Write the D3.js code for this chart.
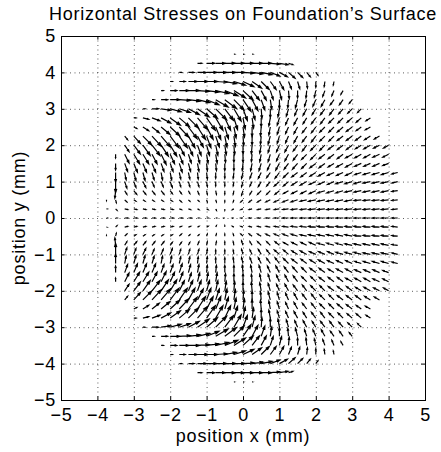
<!DOCTYPE html>
<html>
<head>
<meta charset="utf-8">
<script src="https://cdn.jsdelivr.net/npm/d3@7"></script>
<style>
  body { margin: 0; background: #fff; }
  text { font-family: "Liberation Sans", Arial, sans-serif; fill: #000; letter-spacing: 0.75px; }
</style>
</head>
<body>
<svg id="chart" width="441" height="452"></svg>
<script>
// Labels and ticks
const chartTitle = "Horizontal Stresses on Foundation’s Surface";
const xLabel = "position x (mm)";
const yLabel = "position y (mm)";
const xTicks = [-5, -4, -3, -2, -1, 0, 1, 2, 3, 4, 5];
const yTicks = [-5, -4, -3, -2, -1, 0, 1, 2, 3, 4, 5];

// Sample grid: columns start at x = -3.75 mm, 0.25 mm apart.
const gridX0 = -3.75;
const gridStep = 0.25;
// One code step of a stress component, in plotted mm.
const codeUnit = 0.02;

// One entry per grid row: its y, the first occupied column,
// and the u / v components ('0' = 0, 'A'..'Z' = +1..+26, 'a'..'z' = -1..-26).
const rowY = [4.5, 4.25, 4, 3.75, 3.5, 3.25, 3, 2.75, 2.5, 2.25, 2, 1.75, 1.5, 1.25, 1, 0.75, 0.5, 0.25, 0,
              -0.25, -0.5, -0.75, -1, -1.25, -1.5, -1.75, -2, -2.25, -2.5, -2.75, -3, -3.25, -3.5, -3.75, -4, -4.25, -4.5];
const rowStart = [14, 10, 8, 7, 6, 5, 4, 3, 3, 2, 2, 1, 1, 1, 1, 1, 0, 0, 0,
                  0, 0, 1, 1, 1, 1, 1, 2, 2, 3, 3, 4, 5, 6, 7, 8, 10, 14];
const rowU = [
  "AAA",
  "FKMNNNNNMLF",
  "CHLNOOOOOOMKIGEC",
  "CHLNOPPPOMKHFDCA0aa",
  "CIMOPQRRPNJGDCA0abccc",
  "CIMOPQQQPNKHEB0accdeeed",
  "CIMOOOPOOLJFDA0bcdeeffffe",
  "CHKMNNNNLJHECB0bcdeeffggggf",
  "DHJLMMLKIGECB0abcdeffgghhgg",
  "DILMMLKIHFECBA0accdeffgghhhhg",
  "FIJKJIGFEDCBA0abcdeffgghhhhihg",
  "0FHHGGFEDCBBA00abcdefgghhhiiiih",
  "0DEEEDDDCBAA00abcdefgghhhiiiiih",
  "0BCCCBBBBAA00abcdefghhhiiiiijjjh",
  "0CCDCCCBBBA00abcdegghiiiijjjjjjh",
  "aCDDDDCCBBAA0abceefghhijjjjjjjjh",
  "0ACCCCCCCBBAA0acdefghiijjjjjjjjjh",
  "ABDDDDDDCCBBA0bcdefghiijjjjjjjjjh",
  "ABDDDDDDDDBBAabcdefghiijjjjjjjjjh",
  "ABDDDDDDCCBBA0bcdefghiijjjjjjjjjh",
  "0ACCCCCCCBBAA0acdefghiijjjjjjjjjh",
  "aCDDDDCCBBAA0abceefghhijjjjjjjjh",
  "0CCDCCCBBBA00abcdegghiiiijjjjjjh",
  "0BCCCBBBBAA00abcdefghhhiiiiijjjh",
  "0DEEEDDDCBAA00abcdefgghhhiiiiih",
  "0FHHGGFEDCBBA00abcdefgghhhiiiih",
  "FIJKJIGFEDCBA0abcdeffgghhhhihg",
  "DILMMLKIHFECBA0accdeffgghhhhg",
  "DHJLMMLKIGECB0abcdeffgghhgg",
  "CHKMNNNNLJHECB0bcdeeffggggf",
  "CIMOOOPOOLJFDA0bcdeeffffe",
  "CIMOPQQQPNKHEB0accdeeed",
  "CIMOPQRRPNJGDCA0abccc",
  "CHLNOPPPOMKHFDCA0aa",
  "CHLNOOOOOOMKIGEC",
  "FKMNNNNNMLF",
  "AAA"
];
const rowV = [
  "000",
  "00000000abb",
  "0000000abcefhgfd",
  "00000acegikkkjjihge",
  "0000abdgjmmmllkjjihge",
  "000abdgjlnponmlkkiiigge",
  "00bdehkmopqpomlkjiihhhgfe",
  "0bdgjlnpqqqponlkjiihhhggffd",
  "behjlnpqqqponmlkjiihhgggfed",
  "ejlnopppopoonmlkkjiihhggfffed",
  "ilnnoonnnnnmmllkjiihhggfffeedd",
  "elmmmnmmllllkkkjjjiihggfffeeedd",
  "iklllkklkkjjjjjjjiihhgffeeedddc",
  "mjkkjjjiiiihhhhhhghgffeedddccccb",
  "oihhgghggggfffgfgfffeedddcccbbbb",
  "jeeeeedddeeeeefeeeeddddcccbbbbba",
  "adcbbbbbcbbcccccccccccbbbbbbaaaaa",
  "0baaaaaaaaaabbaaaaaaaaaaaaaaaaaaa",
  "000000000000000000000000000000000",
  "0BAAAAAAAAAABBAAAAAAAAAAAAAAAAAAA",
  "ADCBBBBBCBBCCCCCCCCCCCBBBBBBAAAAA",
  "JEEEEEDDDEEEEEFEEEEDDDDCCCBBBBBA",
  "OIHHGGHGGGGFFFGFGFFFEEDDDCCCBBBB",
  "MJKKJJJIIIIHHHHHHGHGFFEEDDDCCCCB",
  "IKLLLKKLKKJJJJJJJIIHHGFFEEEDDDC",
  "ELMMMNMMLLLLKKKJJJIIHGGFFFEEEDD",
  "ILNNOONNNNNMMLLKJIIHHGGFFFEEDD",
  "EJLNOPPPOPOONMLKKJIIHHGGFFFED",
  "BEHJLNPQQQPONMLKJIIHHGGGFED",
  "0BDGJLNPQQQPONLKJIIHHHGGFFD",
  "00BDEHKMOPQPOMLKJIIHHHGFE",
  "000ABDGJLNPONMLKKIIIGGE",
  "0000ABDGJMMMLLKJJIHGE",
  "00000ACEGIKKKJJIHGE",
  "0000000ABCEFHGFD",
  "00000000ABB",
  "000"
];

// ---- layout ----
const svg = d3.select("#chart");
const plot = { left: 61, top: 36, right: 425, bottom: 400 };
const x = d3.scaleLinear().domain([-5, 5]).range([plot.left, plot.right]);
const y = d3.scaleLinear().domain([-5, 5]).range([plot.bottom, plot.top]);
const fontSize = 18;
const tickLen = 3.6;

// Decode a component character.
function decode(c) {
  if (c === "0") return 0;
  if (c >= "A" && c <= "Z") return c.charCodeAt(0) - 64;
  return -(c.charCodeAt(0) - 96);
}

const arrows = [];
rowY.forEach((yv, r) => {
  const us = rowU[r], vs = rowV[r];
  const n = Math.min(us.length, vs.length);
  for (let k = 0; k < n; k++) {
    if (us[k] === "." || vs[k] === ".") continue;
    arrows.push({
      x: gridX0 + (rowStart[r] + k) * gridStep,
      y: yv,
      u: decode(us[k]) * codeUnit,
      v: decode(vs[k]) * codeUnit
    });
  }
});

// Grid (dotted) at the interior ticks
const grid = svg.append("g").attr("stroke", "#333").attr("stroke-width", 0.8)
  .attr("stroke-dasharray", "1,3.5");
grid.selectAll("line.gx").data(xTicks.filter(t => t > -5 && t < 5)).join("line")
  .attr("class", "gx")
  .attr("x1", d => x(d) + 0.5).attr("x2", d => x(d) + 0.5)
  .attr("y1", plot.top).attr("y2", plot.bottom);
grid.selectAll("line.gy").data(yTicks.filter(t => t > -5 && t < 5)).join("line")
  .attr("class", "gy")
  .attr("y1", d => y(d) + 0.5).attr("y2", d => y(d) + 0.5)
  .attr("x1", plot.left).attr("x2", plot.right);

// Quiver arrows: shaft plus two-stroke head (head length 0.33 of the vector)
const alpha = 0.33, beta = 0.33;
function arrowPath(d) {
  const tx = d.x + d.u, ty = d.y + d.v;
  const h1x = tx - alpha * (d.u + beta * d.v), h1y = ty - alpha * (d.v - beta * d.u);
  const h2x = tx - alpha * (d.u - beta * d.v), h2y = ty - alpha * (d.v + beta * d.u);
  return `M${x(d.x)},${y(d.y)}L${x(tx)},${y(ty)}` +
         `M${x(h1x)},${y(h1y)}L${x(tx)},${y(ty)}L${x(h2x)},${y(h2y)}`;
}
svg.append("g")
  .attr("fill", "none").attr("stroke", "#000").attr("stroke-width", 1.2)
  .selectAll("path").data(arrows).join("path")
  .attr("d", arrowPath);

// Axes with inward ticks on all four sides
function styleAxis(g) {
  g.select(".domain").remove();
  g.selectAll(".tick line").attr("stroke", "#000");
  g.selectAll(".tick text").attr("font-size", fontSize)
    .attr("font-family", "Liberation Sans, Arial, sans-serif");
}
svg.append("g").attr("transform", `translate(0,${plot.bottom})`)
  .call(d3.axisBottom(x).tickValues(xTicks).tickSizeInner(-tickLen).tickSizeOuter(0).tickPadding(8))
  .call(styleAxis);
svg.append("g").attr("transform", `translate(${plot.left},0)`)
  .call(d3.axisLeft(y).tickValues(yTicks).tickSizeInner(-tickLen).tickSizeOuter(0).tickPadding(5))
  .call(styleAxis);
svg.append("g").attr("transform", `translate(0,${plot.top})`)
  .call(d3.axisTop(x).tickValues(xTicks).tickSizeInner(-tickLen).tickSizeOuter(0).tickFormat(""))
  .call(styleAxis);
svg.append("g").attr("transform", `translate(${plot.right},0)`)
  .call(d3.axisRight(y).tickValues(yTicks).tickSizeInner(-tickLen).tickSizeOuter(0).tickFormat(""))
  .call(styleAxis);

// Frame
svg.append("rect")
  .attr("x", plot.left + 0.5).attr("y", plot.top + 0.5)
  .attr("width", plot.right - plot.left).attr("height", plot.bottom - plot.top)
  .attr("fill", "none").attr("stroke", "#000").attr("stroke-width", 1);

// Title and axis labels
svg.append("text")
  .attr("x", (plot.left + plot.right) / 2).attr("y", 19.5)
  .attr("text-anchor", "middle").attr("font-size", fontSize)
  .text(chartTitle);
svg.append("text")
  .attr("x", (plot.left + plot.right) / 2).attr("y", 442)
  .attr("text-anchor", "middle").attr("font-size", fontSize)
  .text(xLabel);
svg.append("text")
  .attr("transform", `translate(25,${(plot.top + plot.bottom) / 2}) rotate(-90)`)
  .attr("text-anchor", "middle").attr("font-size", fontSize)
  .text(yLabel);
</script>
</body>
</html>
